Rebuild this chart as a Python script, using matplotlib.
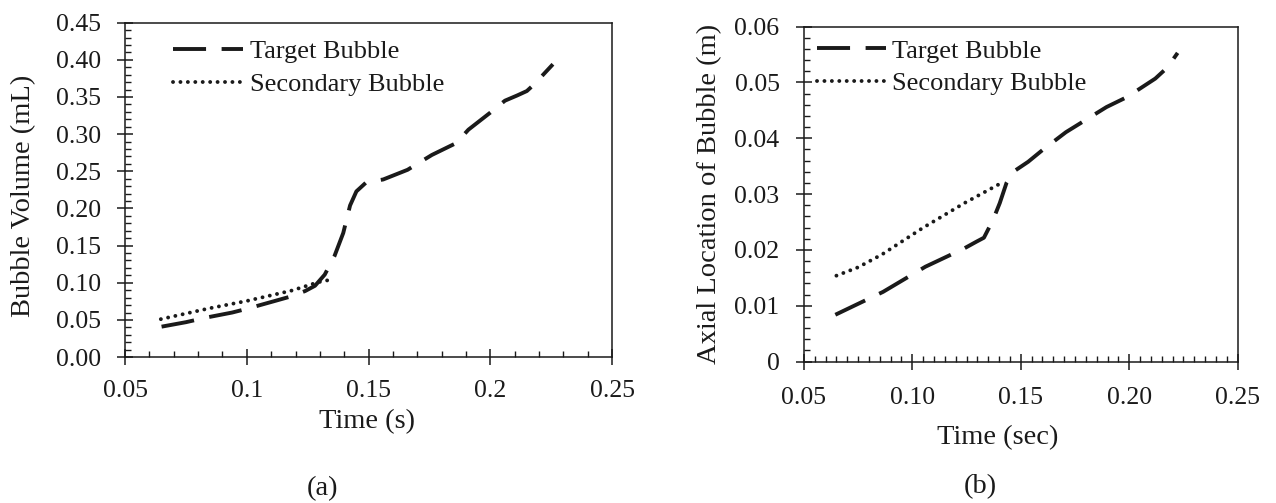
import numpy as np
import matplotlib
matplotlib.use("Agg")
import matplotlib.pyplot as plt
from matplotlib.ticker import MultipleLocator, FixedFormatter, FixedLocator

plt.rcParams.update({
    "font.family": ["Liberation Serif", "DejaVu Serif"],
    "text.color": "#1a1a1a",
    "axes.labelcolor": "#1a1a1a",
    "xtick.color": "#1a1a1a",
    "ytick.color": "#1a1a1a",
})

# ---------------- data ----------------
# (a) bubble volume vs time
vol_target_t = [0.065, 0.075, 0.083, 0.094, 0.100, 0.112, 0.1185, 0.124, 0.128, 0.132,
                0.136, 0.1396, 0.1424, 0.145, 0.149, 0.156, 0.166, 0.176, 0.186,
                0.191, 0.200, 0.206, 0.211, 0.215, 0.218, 0.2257]
vol_target_v = [0.041, 0.047, 0.053, 0.060, 0.065, 0.076, 0.082, 0.089, 0.096, 0.111,
                0.136, 0.167, 0.204, 0.223, 0.235, 0.239, 0.252, 0.272, 0.288,
                0.306, 0.329, 0.345, 0.352, 0.358, 0.367, 0.394]
vol_second_t = [0.0647, 0.0845, 0.100, 0.1185, 0.1294, 0.1342]
vol_second_v = [0.0511, 0.0656, 0.0756, 0.0896, 0.1009, 0.104]

# (b) axial location vs time
loc_target_t = [0.0645, 0.0865, 0.106, 0.124, 0.1296, 0.133, 0.1372, 0.1403, 0.1434,
                0.1465, 0.1534, 0.160, 0.1708, 0.1895, 0.199, 0.212, 0.2176, 0.2223]
loc_target_z = [0.0084, 0.0125, 0.0170, 0.0203, 0.0215, 0.0222, 0.0254, 0.0284, 0.0320,
                0.0340, 0.0358, 0.0379, 0.0411, 0.0456, 0.0474, 0.0507, 0.0527, 0.0553]
loc_second_t = [0.065, 0.075, 0.086, 0.105, 0.124, 0.141]
loc_second_z = [0.0154, 0.0169, 0.0192, 0.0240, 0.0284, 0.0320]

a_xticks = [0.05, 0.10, 0.15, 0.20, 0.25]
a_xlabels = ["0.05", "0.1", "0.15", "0.2", "0.25"]
a_yticks = [0.00, 0.05, 0.10, 0.15, 0.20, 0.25, 0.30, 0.35, 0.40, 0.45]
a_ylabels = ["0.00", "0.05", "0.10", "0.15", "0.20", "0.25", "0.30", "0.35", "0.40", "0.45"]
b_xticks = [0.05, 0.10, 0.15, 0.20, 0.25]
b_xlabels = ["0.05", "0.10", "0.15", "0.20", "0.25"]
b_yticks = [0.00, 0.01, 0.02, 0.03, 0.04, 0.05, 0.06]
b_ylabels = ["0", "0.01", "0.02", "0.03", "0.04", "0.05", "0.06"]

LINE = "#1a1a1a"
LW = 2.8
DASH = (0, (8.5, 4))
DOT = (0, (0.01, 1.9))
TICK_FS = 18.5
LABEL_FS = 20.5
LEG_FS = 19

fig = plt.figure(figsize=(12.76, 5.03), dpi=100)
ax1 = fig.add_axes([0.098, 0.290, 0.3817, 0.665])
ax2 = fig.add_axes([0.630, 0.281, 0.340, 0.666])


def style_axes(ax, xticks, xlabels, yticks, ylabels, xminor, yminor, xpad, ypad):
    ax.set_xlim(xticks[0], xticks[-1])
    ax.set_ylim(yticks[0], yticks[-1])
    ax.xaxis.set_major_locator(FixedLocator(xticks))
    ax.xaxis.set_major_formatter(FixedFormatter(xlabels))
    ax.yaxis.set_major_locator(FixedLocator(yticks))
    ax.yaxis.set_major_formatter(FixedFormatter(ylabels))
    ax.xaxis.set_minor_locator(MultipleLocator(xminor))
    ax.yaxis.set_minor_locator(MultipleLocator(yminor))
    ax.tick_params(which="major", direction="inout", length=11, width=1.1,
                   labelsize=TICK_FS)
    ax.tick_params(axis="x", which="major", pad=xpad)
    ax.tick_params(axis="y", which="major", pad=ypad)
    ax.tick_params(which="minor", direction="in", length=4, width=1.0)
    for s in ax.spines.values():
        s.set_linewidth(1.1)
        s.set_color(LINE)


# ---- panel (a)
ax1.plot(vol_target_t, vol_target_v, color=LINE, lw=LW, linestyle=DASH,
         label="Target Bubble")
ax1.plot(vol_second_t, vol_second_v, color=LINE, lw=LW, linestyle=DOT,
         dash_capstyle="round", label="Secondary Bubble")
style_axes(ax1, a_xticks, a_xlabels, a_yticks, a_ylabels, 0.01, 0.01, 11, 12)
ax1.legend(loc="upper left", bbox_to_anchor=(0.099, 0.95), frameon=False,
           fontsize=LEG_FS, handlelength=2.65, handletextpad=0.25,
           borderpad=0, borderaxespad=0, labelspacing=0.36)

# ---- panel (b)
ax2.plot(loc_target_t, loc_target_z, color=LINE, lw=LW, linestyle=DASH,
         label="Target Bubble")
ax2.plot(loc_second_t, loc_second_z, color=LINE, lw=LW, linestyle=DOT,
         dash_capstyle="round", label="Secondary Bubble")
style_axes(ax2, b_xticks, b_xlabels, b_yticks, b_ylabels, 0.005, 0.002, 12.5, 12)
ax2.legend(loc="upper left", bbox_to_anchor=(0.030, 0.963), frameon=False,
           fontsize=LEG_FS, handlelength=2.6, handletextpad=0.25,
           borderpad=0, borderaxespad=0, labelspacing=0.36)

# axis labels and panel tags placed in figure pixels
W, H = 1276, 503
def ftext(x, y, s, **kw):
    fig.text(x / W, 1 - y / H, s, ha="center", va="center", **kw)

ftext(24, 196, "Bubble Volume (mL)", fontsize=LABEL_FS, rotation=90)
ftext(367, 422, "Time (s)", fontsize=LABEL_FS)
ftext(322, 489, "(a)", fontsize=LABEL_FS)
ftext(710, 194, "Axial Location of Bubble (m)", fontsize=LABEL_FS, rotation=90)
ftext(998, 438, "Time (sec)", fontsize=LABEL_FS)
ftext(980, 487, "(b)", fontsize=LABEL_FS)

fig.savefig("out.png", dpi=100)
